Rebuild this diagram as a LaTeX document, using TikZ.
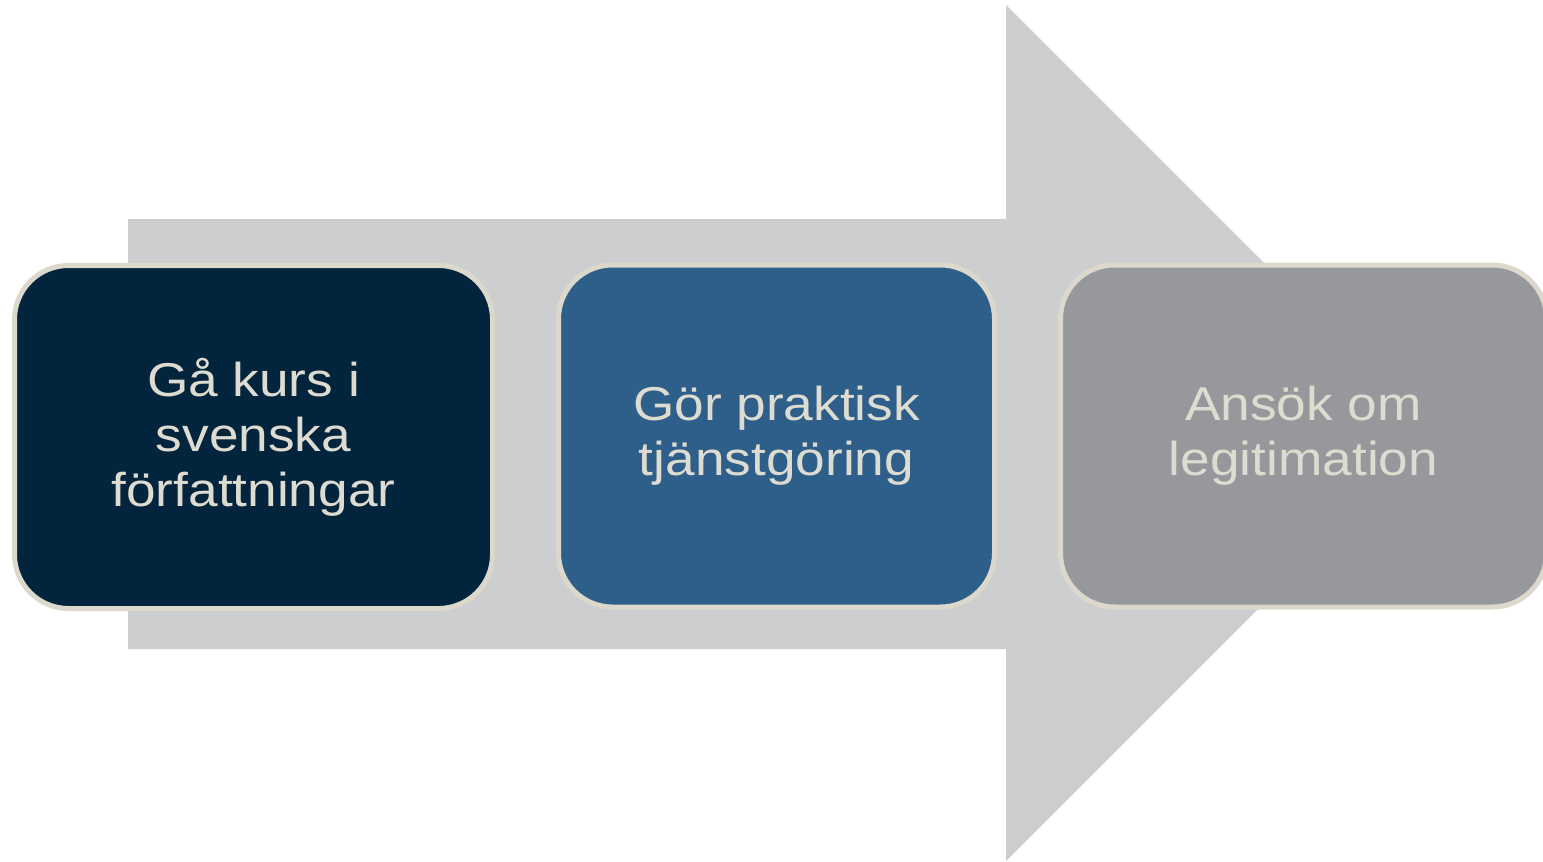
\documentclass[tikz,border=0pt]{standalone}
\usepackage{fontspec}
\setmainfont{Liberation Sans}
\newfontfamily\widesans[FakeStretch=1.12]{Liberation Sans}
\definecolor{arrowgray}{HTML}{CDCED0}
\definecolor{boxone}{HTML}{02253D}
\definecolor{boxtwo}{HTML}{2D5F8A}
\definecolor{boxthree}{HTML}{96989C}
\definecolor{rim}{HTML}{DCD9CC}
\definecolor{txt}{HTML}{DEDBD0}
\tikzset{
  stepbox/.style={draw=rim, line width=5pt, rounded corners=54pt,
    text=txt, align=center, inner sep=0pt,
    font=\widesans\fontsize{47.5}{55}\selectfont},
}
\begin{document}
\begin{tikzpicture}[x=1pt,y=-1pt]
\useasboundingbox (0,0) rectangle (1543,862);
\begin{scope}
\clip (0,0) rectangle (1543,862);
\fill[arrowgray] (128,219) -- (1006,219) -- (1006,5) -- (1434,433) -- (1006,861) -- (1006,649) -- (128,649) -- cycle;
\node[stepbox, fill=boxone, minimum width=478pt, minimum height=343pt] (b1) at (253.5,437) {Gå kurs i\\svenska\\författningar};
\node[stepbox, fill=boxtwo, minimum width=436pt, minimum height=342pt] (b2) at (776.5,436) {Gör praktisk\\tjänstgöring};
\node[stepbox, fill=boxthree, minimum width=486pt, minimum height=342pt] (b3) at (1303.5,436) {Ansök om\\legitimation};
\end{scope}
\end{tikzpicture}
\end{document}
